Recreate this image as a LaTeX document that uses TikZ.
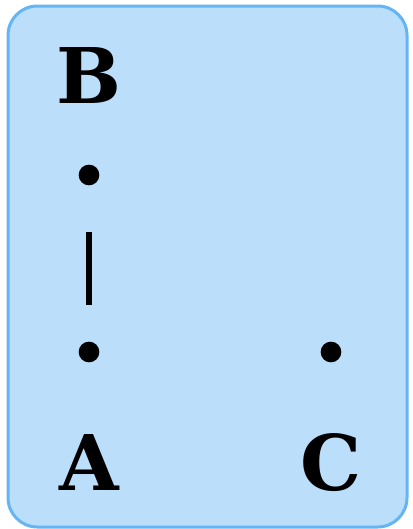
\documentclass[tikz,border=0pt]{standalone}
\usepackage{fontspec}
\setmainfont{DejaVu Serif}
\usetikzlibrary{positioning}
\definecolor{panelfill}{HTML}{BBDEFB}
\definecolor{paneldraw}{HTML}{64B5F6}

\begin{document}
\begin{tikzpicture}[x=0.75pt, y=-0.75pt,
  letter/.style={font=\bfseries\fontsize{57.6}{60}\selectfont, inner sep=0pt, anchor=base},
  dotpt/.style={circle, fill=black, inner sep=0pt, minimum size=15.5pt}]
\useasboundingbox (0,0) rectangle (412,529);
% Panel
\draw[paneldraw, fill=panelfill, line width=2.25pt, rounded corners=22pt] (8,6) rectangle (407,527);

% Points
\node[dotpt] (pb) at (89,175) {};
\node[dotpt] (pa) at (89,352) {};
\node[dotpt] (pc) at (331,352) {};

% Labels
\node[letter] (lb) at (89,103) {B};
\node[letter] (la) at (89,490) {A};
\node[letter] (lc) at (331,490) {C};

% Bar
\draw[line width=4.5pt, shorten <=42.75pt, shorten >=35.25pt] (pb.center) -- (pa.center);
\end{tikzpicture}
\end{document}
